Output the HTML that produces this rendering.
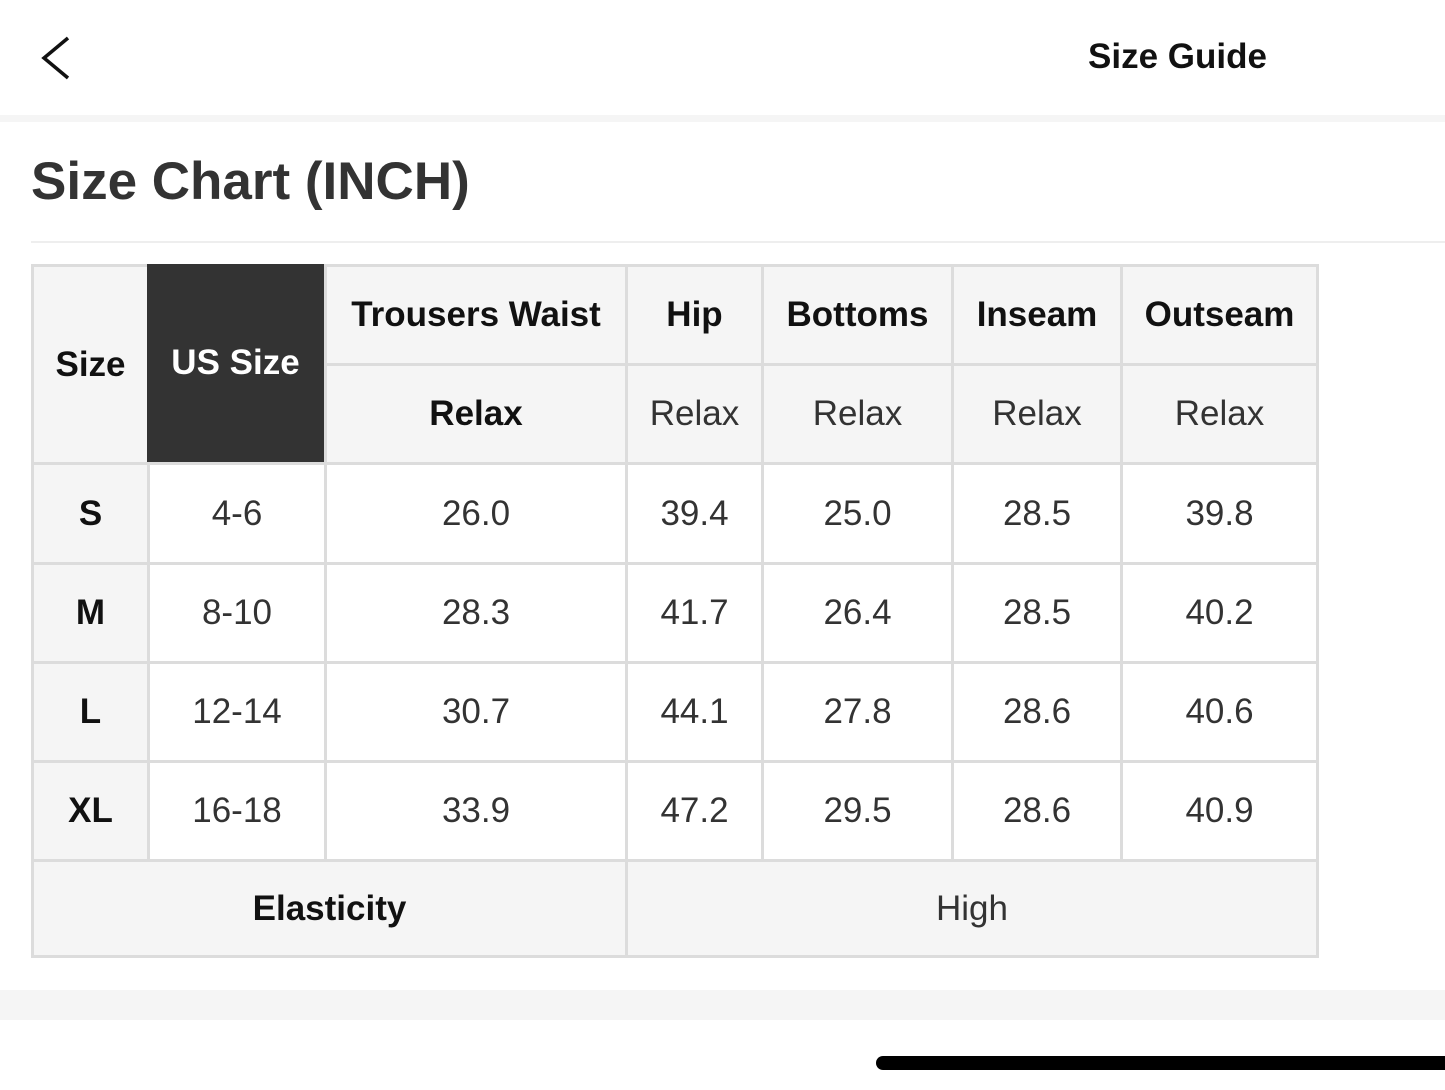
<!DOCTYPE html>
<html><head><style>
body{margin:0;width:1445px;height:1090px;background:#fff;position:relative;overflow:hidden;font-family:"Liberation Sans",sans-serif;}
.a{position:absolute}
.c{position:absolute;display:flex;align-items:center;justify-content:center;font-size:35px;color:#333;background:#fff}
.h{background:#f5f5f5;font-weight:bold;color:#111}
.g{background:#f5f5f5}
</style></head><body>
<svg class="a" style="left:36px;top:34px" width="40" height="48"><polyline points="32,4 8,24 32,44" fill="none" stroke="#111" stroke-width="3.5"/></svg>
<div class="a" style="left:1088px;top:37px;font-size:35px;font-weight:bold;color:#111">Size Guide</div>
<div class="a" style="left:0;top:115px;width:1445px;height:7px;background:#f5f5f5"></div>
<div class="a" style="left:31px;top:151px;font-size:53px;font-weight:bold;color:#333">Size Chart (INCH)</div>
<div class="a" style="left:31px;top:241px;width:1414px;height:2px;background:#eee"></div>
<div class="a" style="left:31px;top:264px;width:1288px;height:694px;background:#dcdcdc">
<div id="t"></div>
</div>
<div class="a" style="left:0;top:990px;width:1445px;height:30px;background:#f5f5f5"></div>
<div class="a" style="left:876px;top:1056px;width:580px;height:14px;border-radius:7px;background:#000"></div>
<script>
var X=[31,147,324,625,761,951,1120,1316],Y=[264,363,462,562,661,760,859,955];
var t=document.getElementById('t').parentNode;
function cell(c0,c1,r0,r1,txt,cls,st){var d=document.createElement('div');d.className='c '+(cls||'');
d.style.left=(X[c0]-31+3)+'px';d.style.top=(Y[r0]-264+3)+'px';d.style.width=(X[c1]-X[c0]-3)+'px';d.style.height=(Y[r1]-Y[r0]-3)+'px';
if(st)d.style.cssText+=st;d.textContent=txt;t.appendChild(d);}
cell(0,1,0,2,'Size','h');
cell(1,2,0,2,'US Size','h','background:#333;color:#fff;left:'+(147-31)+'px;top:0px;width:'+(324-147)+'px;height:'+(462-264)+'px');
var hd=['Trousers Waist','Hip','Bottoms','Inseam','Outseam'];
for(var i=0;i<5;i++){cell(i+2,i+3,0,1,hd[i],'h');cell(i+2,i+3,1,2,'Relax',i==0?'h':'g');}
var rows=[['S','4-6','26.0','39.4','25.0','28.5','39.8'],['M','8-10','28.3','41.7','26.4','28.5','40.2'],['L','12-14','30.7','44.1','27.8','28.6','40.6'],['XL','16-18','33.9','47.2','29.5','28.6','40.9']];
rows.forEach(function(r,j){r.forEach(function(v,i){cell(i,i+1,j+2,j+3,v,i==0?'h':'');});});
cell(0,3,6,7,'Elasticity','h');cell(3,7,6,7,'High','g');
</script>
</body></html>
